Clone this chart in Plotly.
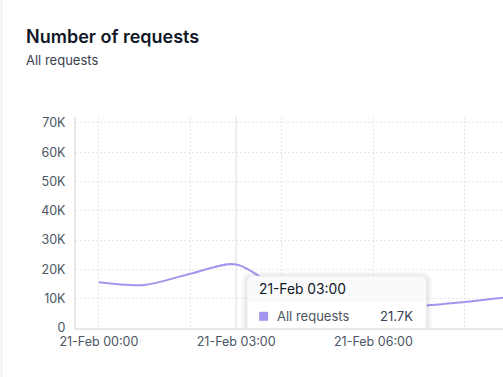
import plotly.graph_objects as go

# ---- data ----
times = ["2024-02-21 00:00", "2024-02-21 01:00", "2024-02-21 02:00", "2024-02-21 03:00",
         "2024-02-21 04:00", "2024-02-21 05:00", "2024-02-21 06:00", "2024-02-21 07:00",
         "2024-02-21 08:00", "2024-02-21 09:00"]
requests = [15600, 14700, 18500, 21700, 12800, 8600, 6900, 7500, 8900, 10600]
y_tick_vals = [0, 10000, 20000, 30000, 40000, 50000, 60000, 70000]
y_tick_text = ["0", "10K", "20K", "30K", "40K", "50K", "60K", "70K"]
series_name = "All requests"
title_text = "Number of requests"
subtitle_text = "All requests"
hover_index = 3

LINE = "#a594ee"
GRID = "#e3e6ea"
AXIS = "#e5e7eb"
TICK = "#4b5563"
FONT = "Inter"

x_range = ["2024-02-20 23:30", "2024-02-21 08:50"]

fig = go.Figure()
fig.add_trace(go.Scatter(x=times, y=requests, mode="lines", name=series_name,
                         line=dict(color=LINE, width=2, shape="spline", smoothing=0.9),
                         hoverinfo="skip", xaxis="x", yaxis="y"))
# invisible helper trace so the label axis is drawn
fig.add_trace(go.Scatter(x=times, y=requests, mode="lines", opacity=0,
                         hoverinfo="skip", showlegend=False, xaxis="x2", yaxis="y"))

fig.update_layout(
    width=503, height=377,
    margin=dict(l=76, r=0, t=117, b=49),
    paper_bgcolor="white", plot_bgcolor="white",
    showlegend=False,
    font=dict(family=FONT, color=TICK, size=12),
    xaxis=dict(range=x_range, type="date", tick0="2024-02-21 00:00", dtick=2 * 3600 * 1000,
               showgrid=True, gridcolor=GRID, griddash="2px,2px", gridwidth=1,
               showticklabels=False, ticks="", showline=True, linecolor=AXIS, linewidth=2,
               zeroline=False),
    xaxis2=dict(overlaying="x", matches="x", range=x_range, type="date",
                tick0="2024-02-21 00:00", dtick=3 * 3600 * 1000, tickformat="%d-%b %H:%M",
                showgrid=False, showline=False, ticks="", side="bottom",
                tickfont=dict(family=FONT, size=12.5, color=TICK), zeroline=False,
                ticklabelstandoff=4),
    yaxis=dict(range=[0, 72000], tickvals=y_tick_vals, ticktext=y_tick_text,
               showgrid=True, gridcolor=GRID, griddash="2px,2px", gridwidth=1,
               showline=True, linecolor=AXIS, linewidth=2, ticks="", zeroline=False,
               tickfont=dict(family=FONT, size=12.5, color=TICK), ticklabelstandoff=6),
)

# title and subtitle
fig.add_annotation(text=title_text, xref="paper", yref="paper", x=-52 / 427, y=1 + (117 - 37) / 210.7,
                   xanchor="left", yanchor="middle", showarrow=False,
                   font=dict(family=FONT, size=18, color="#111827", weight=600))
fig.add_annotation(text=subtitle_text, xref="paper", yref="paper", x=-52 / 427, y=1 + (117 - 60) / 210.7,
                   xanchor="left", yanchor="middle", showarrow=False,
                   font=dict(family=FONT, size=13, color="#374151"))

# card left border
fig.add_shape(type="line", xref="paper", yref="paper", x0=-74.5 / 427, x1=-74.5 / 427,
              y0=-50 / 210.7, y1=1 + 117 / 210.7, line=dict(color="#eceef1", width=1.5))

hx = times[hover_index]
hy = requests[hover_index]

# hover cursor line
fig.add_shape(type="line", xref="x", yref="paper", x0=hx, x1=hx, y0=0, y1=1,
              line=dict(color="#e5e7eb", width=1.5), layer="below")


def rrect(x0, y0, x1, y1, r):
    return (f"M{x0+r},{y0} L{x1-r},{y0} Q{x1},{y0} {x1},{y0+r} L{x1},{y1-r} Q{x1},{y1} {x1-r},{y1} "
            f"L{x0+r},{y1} Q{x0},{y1} {x0},{y1-r} L{x0},{y0+r} Q{x0},{y0} {x0+r},{y0} Z")


def pshape(path, fill, line_color=None, lw=0):
    fig.add_shape(type="path", xref="x", yref="y", xsizemode="pixel", ysizemode="pixel",
                  xanchor=hx, yanchor=0, path=path, fillcolor=fill,
                  line=dict(color=line_color or "rgba(0,0,0,0)", width=lw), layer="above")


# tooltip (pixel offsets from anchor, y up)
bx0, bx1, by0, by1 = 11, 190, -3.3, 51.7
for i, a in enumerate([0.025, 0.03, 0.04]):
    g = 6 - 2 * i
    pshape(rrect(bx0 - g, by0 - g - 2, bx1 + g, by1 + g - 1, 6 + g), f"rgba(0,0,0,{a})")
pshape(rrect(bx0, by0, bx1, by1, 6), "white", "#eef0f2", 1)
pshape(rrect(bx0 + 0.5, 25.7, bx1 - 0.5, by1 - 0.5, 5.5), "#f9fafb")
# square marker
fig.add_shape(type="rect", xref="x", yref="y", xsizemode="pixel", ysizemode="pixel",
              xanchor=hx, yanchor=0, x0=23, x1=32, y0=7.2, y1=16.2,
              fillcolor=LINE, line=dict(width=0), layer="above")

fig.add_annotation(text=hx[8:10] + "-Feb " + hx[11:], x=hx, y=0, xref="x", yref="y",
                   xanchor="left", yanchor="middle", xshift=21, yshift=38.7, showarrow=False,
                   font=dict(family=FONT, size=13.8, color="#111827"))
fig.add_annotation(text=series_name, x=hx, y=0, xref="x", yref="y",
                   xanchor="left", yanchor="middle", xshift=39, yshift=11.7, showarrow=False,
                   font=dict(family=FONT, size=13, color="#4b5563"))
fig.add_annotation(text=f"{hy/1000:.1f}K", x=hx, y=0, xref="x", yref="y",
                   xanchor="right", yanchor="middle", xshift=179, yshift=11.7, showarrow=False,
                   font=dict(family=FONT, size=13, color="#374151"))

fig.write_html("out.html", config={"displayModeBar": False},
               post_script="document.body.style.margin='0';document.body.style.padding='0';")
